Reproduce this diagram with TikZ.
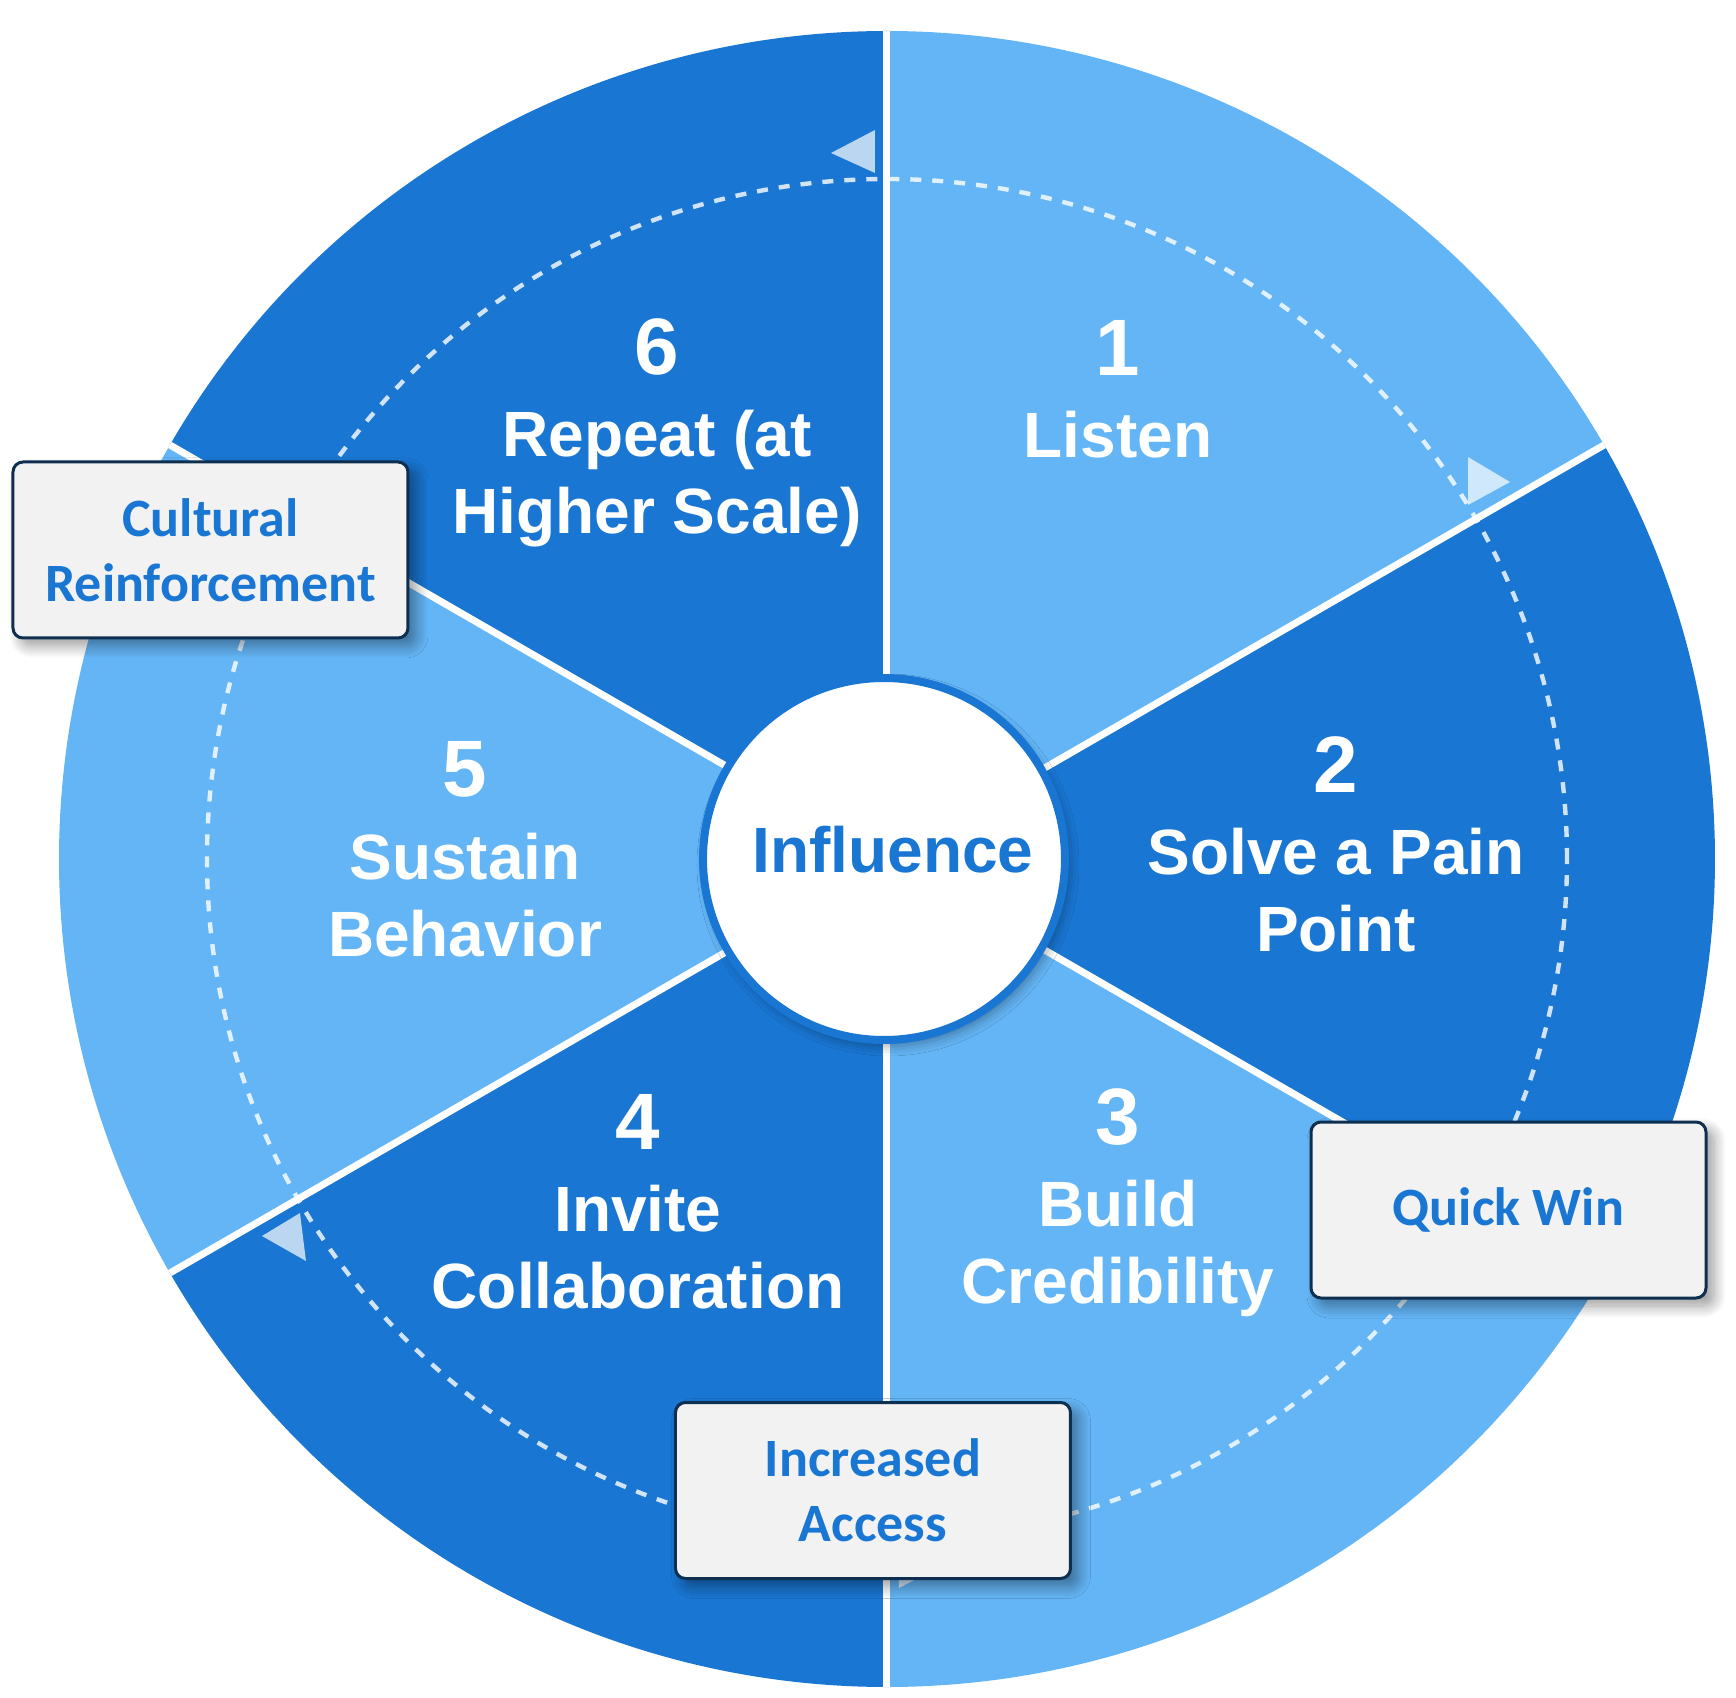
\documentclass[tikz,border=0pt]{standalone}
\usepackage{fontspec}
\setmainfont{Liberation Sans}
\newfontfamily\boxfont{Carlito}
\usepackage{xcolor}
\usetikzlibrary{positioning,shadows.blur}
\definecolor{lightseg}{HTML}{64B5F6}
\definecolor{darkseg}{HTML}{1976D2}
\definecolor{boxline}{HTML}{0E2F4F}
\definecolor{boxfill}{HTML}{F2F2F2}

\tikzset{
	segnum/.style={text=white,font=\fontsize{40}{48}\selectfont\bfseries,inner sep=0pt,anchor=base},
	segtext/.style={text=white,font=\fontsize{32}{38.5}\selectfont\bfseries,align=center,inner sep=0pt,anchor=base},
	sepline/.style={draw=white,line width=3.5pt},
	loopline/.style={draw=white,draw opacity=.8,line width=2.2pt,dash pattern=on 5.5pt off 5.5pt},
	looptip/.style={fill=white,fill opacity=.7},
	hub/.style={circle,fill=white,draw=darkseg,line width=4pt,minimum size=181pt,inner sep=0pt,
		blur shadow={shadow xshift=2pt,shadow yshift=-3pt,shadow opacity=35,shadow blur radius=5pt}},
	hubtext/.style={text=darkseg,font=\fontsize{32}{38}\selectfont\bfseries,inner sep=0pt,anchor=base},
	notebox/.style={draw=boxline,line width=1.5pt,fill=boxfill,rounded corners=5pt,
		minimum width=197.5pt,minimum height=88pt,inner sep=0pt,text=darkseg,align=center,
		font=\boxfont\fontsize{27}{32.5}\selectfont\bfseries,
		blur shadow={shadow xshift=4pt,shadow yshift=-4pt,shadow opacity=40,shadow blur radius=6pt,shadow blur steps=12}}
}

\begin{document}
\begin{tikzpicture}[x=0.5pt,y=0.5pt]
		\useasboundingbox (-887,-839) rectangle (849,859);
	
		% the six sectors of the wheel
		\foreach \a/\c in {30/lightseg,-30/darkseg,-90/lightseg,-150/darkseg,150/lightseg,90/darkseg}
			\fill[\c] (0,0) -- (\a:414pt) arc[start angle=\a,end angle=\a+60,radius=414pt] -- cycle;
		\foreach \a in {90,30,-30,-90,-150,150}
			\draw[sepline] (0,0) -- (\a:414pt);
	
		% cycle
		\draw[loopline] (0,0) circle[radius=340pt];
		\fill[looptip] (-12,729) -- (-12,686) -- (-56,706) -- cycle;
		\fill[looptip] (581,402) -- (581,354) -- (623,377) -- cycle;
		\fill[looptip] (12,-729) -- (12,-686) -- (56,-706) -- cycle;
		\fill[looptip] (-581,-402) -- (-587,-354) -- (-625,-377) -- cycle;
	
		\node[hub] (hub) at (-3,0) {};
		\node[hubtext] (core) at ([xshift=4.5pt,yshift=-6.5pt]hub.center) {Influence};
	
		\node[segnum] (n1) at (231,483) {1};
		\node[segnum] (n2) at (449,67) {2};
		\node[segnum] (n3) at (231,-285) {3};
		\node[segnum] (n4) at (-249,-290) {4};
		\node[segnum] (n5) at (-422,62) {5};
		\node[segnum] (n6) at (-230,484) {6};
	
		% base of a two-line node is its last line
		\node[segtext] (t1) at ([yshift=-41pt]n1.base) {Listen};
		\node[segtext] (t2) at ([yshift=-79.5pt]n2.base) {Solve a Pain\\Point};
		\node[segtext] (t3) at ([yshift=-79.5pt]n3.base) {Build\\Credibility};
		\node[segtext] (t4) at ([yshift=-79.5pt]n4.base) {Invite\\Collaboration};
		\node[segtext] (t5) at ([yshift=-79.5pt]n5.base) {Sustain\\Behavior};
		\node[segtext] (t6) at ([yshift=-79.5pt]n6.base) {Repeat (at\\Higher Scale)};
	
		% milestones
		\node[notebox] (qw) at (621.5,-351) {Quick Win};
		\node[notebox] (ia) at (-14,-631.5) {Increased\\Access};
		\node[notebox] (cr) at (-676.5,309) {Cultural\\Reinforcement};
	\end{tikzpicture}
\end{document}
